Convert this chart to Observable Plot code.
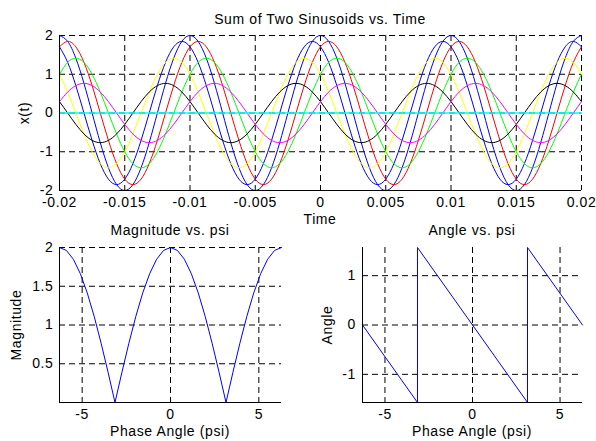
<!DOCTYPE html>
<html><head><meta charset="utf-8">
<script src="https://cdn.jsdelivr.net/npm/d3@7"></script>
<script src="https://cdn.jsdelivr.net/npm/@observablehq/plot@0.6"></script>
<style>
body{margin:0;background:#fff;}
#fig{position:relative;width:596px;height:441px;background:#fff;overflow:hidden;}
#fig svg{position:absolute;}
</style></head><body><div id="fig"></div>
<script>
// ---------- data: top panel (time samples and the eight summed sinusoids) ----------
const timeS = [
 -0.02,-0.019375,-0.01875,-0.018125,-0.0175,-0.016875,-0.01625,-0.015625,
 -0.015,-0.014375,-0.01375,-0.013125,-0.0125,-0.011875,-0.01125,-0.010625,
 -0.01,-0.009375,-0.00875,-0.008125,-0.0075,-0.006875,-0.00625,-0.005625,
 -0.005,-0.004375,-0.00375,-0.003125,-0.0025,-0.001875,-0.00125,-0.000625,
 0,0.000625,0.00125,0.001875,0.0025,0.003125,0.00375,0.004375,
 0.005,0.005625,0.00625,0.006875,0.0075,0.008125,0.00875,0.009375,
 0.01,0.010625,0.01125,0.011875,0.0125,0.013125,0.01375,0.014375,
 0.015,0.015625,0.01625,0.016875,0.0175,0.018125,0.01875,0.019375,0.02];
const xPsi0 = [
 2,1.848,1.414,0.765,0,-0.765,-1.414,-1.848,-2,-1.848,-1.414,-0.765,0,0.765,1.414,1.848,
 2,1.848,1.414,0.765,0,-0.765,-1.414,-1.848,-2,-1.848,-1.414,-0.765,0,0.765,1.414,1.848,
 2,1.848,1.414,0.765,0,-0.765,-1.414,-1.848,-2,-1.848,-1.414,-0.765,0,0.765,1.414,1.848,
 2,1.848,1.414,0.765,0,-0.765,-1.414,-1.848,-2,-1.848,-1.414,-0.765,0,0.765,1.414,1.848,
 2];
const xPsiP1 = [
 1.707,1.307,0.707,0,-0.707,-1.307,-1.707,-1.848,-1.707,-1.307,-0.707,0,0.707,1.307,1.707,1.848,
 1.707,1.307,0.707,0,-0.707,-1.307,-1.707,-1.848,-1.707,-1.307,-0.707,0,0.707,1.307,1.707,1.848,
 1.707,1.307,0.707,0,-0.707,-1.307,-1.707,-1.848,-1.707,-1.307,-0.707,0,0.707,1.307,1.707,1.848,
 1.707,1.307,0.707,0,-0.707,-1.307,-1.707,-1.848,-1.707,-1.307,-0.707,0,0.707,1.307,1.707,1.848,
 1.707];
const xPsiM1 = [
 1.707,1.848,1.707,1.307,0.707,0,-0.707,-1.307,-1.707,-1.848,-1.707,-1.307,-0.707,0,0.707,1.307,
 1.707,1.848,1.707,1.307,0.707,0,-0.707,-1.307,-1.707,-1.848,-1.707,-1.307,-0.707,0,0.707,1.307,
 1.707,1.848,1.707,1.307,0.707,0,-0.707,-1.307,-1.707,-1.848,-1.707,-1.307,-0.707,0,0.707,1.307,
 1.707,1.848,1.707,1.307,0.707,0,-0.707,-1.307,-1.707,-1.848,-1.707,-1.307,-0.707,0,0.707,1.307,
 1.707];
const xPsiP2 = [
 1,0.541,0,-0.541,-1,-1.307,-1.414,-1.307,-1,-0.541,0,0.541,1,1.307,1.414,1.307,
 1,0.541,0,-0.541,-1,-1.307,-1.414,-1.307,-1,-0.541,0,0.541,1,1.307,1.414,1.307,
 1,0.541,0,-0.541,-1,-1.307,-1.414,-1.307,-1,-0.541,0,0.541,1,1.307,1.414,1.307,
 1,0.541,0,-0.541,-1,-1.307,-1.414,-1.307,-1,-0.541,0,0.541,1,1.307,1.414,1.307,
 1];
const xPsiM2 = [
 1,1.307,1.414,1.307,1,0.541,0,-0.541,-1,-1.307,-1.414,-1.307,-1,-0.541,0,0.541,
 1,1.307,1.414,1.307,1,0.541,0,-0.541,-1,-1.307,-1.414,-1.307,-1,-0.541,0,0.541,
 1,1.307,1.414,1.307,1,0.541,0,-0.541,-1,-1.307,-1.414,-1.307,-1,-0.541,0,0.541,
 1,1.307,1.414,1.307,1,0.541,0,-0.541,-1,-1.307,-1.414,-1.307,-1,-0.541,0,0.541,
 1];
const xPsiP3 = [
 0.293,0,-0.293,-0.541,-0.707,-0.765,-0.707,-0.541,-0.293,0,0.293,0.541,0.707,0.765,0.707,0.541,
 0.293,0,-0.293,-0.541,-0.707,-0.765,-0.707,-0.541,-0.293,0,0.293,0.541,0.707,0.765,0.707,0.541,
 0.293,0,-0.293,-0.541,-0.707,-0.765,-0.707,-0.541,-0.293,0,0.293,0.541,0.707,0.765,0.707,0.541,
 0.293,0,-0.293,-0.541,-0.707,-0.765,-0.707,-0.541,-0.293,0,0.293,0.541,0.707,0.765,0.707,0.541,
 0.293];
const xPsiM3 = [
 0.293,0.541,0.707,0.765,0.707,0.541,0.293,0,-0.293,-0.541,-0.707,-0.765,-0.707,-0.541,-0.293,0,
 0.293,0.541,0.707,0.765,0.707,0.541,0.293,0,-0.293,-0.541,-0.707,-0.765,-0.707,-0.541,-0.293,0,
 0.293,0.541,0.707,0.765,0.707,0.541,0.293,0,-0.293,-0.541,-0.707,-0.765,-0.707,-0.541,-0.293,0,
 0.293,0.541,0.707,0.765,0.707,0.541,0.293,0,-0.293,-0.541,-0.707,-0.765,-0.707,-0.541,-0.293,0,
 0.293];
const xPsiPi = [
 0,0,0,0,0,0,0,0,0,0,0,0,0,0,0,0,
 0,0,0,0,0,0,0,0,0,0,0,0,0,0,0,0,
 0,0,0,0,0,0,0,0,0,0,0,0,0,0,0,0,
 0,0,0,0,0,0,0,0,0,0,0,0,0,0,0,0,
 0];
const seriesValues = [xPsi0, xPsiP1, xPsiM1, xPsiP2, xPsiM2, xPsiP3, xPsiM3, xPsiPi];
const timeTicks = [-0.02,-0.015,-0.01,-0.005,0,0.005,0.01,0.015,0.02];
const timeTickLabels = ["-0.02","-0.015","-0.01","-0.005","0","0.005","0.01","0.015","0.02"];
const xtTicks = [-2,-1,0,1,2];
const xtTickLabels = ["-2","-1","0","1","2"];

// ---------- data: bottom panels ----------
const psiS = [-6.283,-5.890,-5.498,-5.105,-4.712,-4.320,-3.927,-3.534,-3.142,-2.749,-2.356,-1.963,-1.571,-1.178,-0.785,-0.393,
 0,0.393,0.785,1.178,1.571,1.963,2.356,2.749,3.142,3.534,3.927,4.320,4.712,5.105,5.498,5.890,6.283];
const magS = [2,1.962,1.848,1.663,1.414,1.111,0.765,0.390,0,0.390,0.765,1.111,1.414,1.663,1.848,1.962,
 2,1.962,1.848,1.663,1.414,1.111,0.765,0.390,0,0.390,0.765,1.111,1.414,1.663,1.848,1.962,2];
const anglePsi = [-6.283,-3.142,-3.142,3.142,3.142,6.283];
const angleVal = [0,-1.571,1.571,-1.571,1.571,0];
const psiTicks = [-5,0,5];
const psiTickLabels = ["-5","0","5"];
const magTicks = [0.5,1,1.5,2];
const magTickLabels = ["0.5","1","1.5","2"];
const angTicks = [-1,0,1];
const angTickLabels = ["-1","0","1"];

// ---------- styles ----------
const seriesColors = ["#0000ff","#0000ff","#ff0000","#ffff00","#00ff00","#000000","#ff00ff","#00ffff"];
const seriesWidths = [1,1,1,1,1,1,1,1.4];
const FONT = "'Liberation Sans', Arial, sans-serif";
const baseStyle = {fontFamily: FONT, fontSize: "14px", background: "transparent", overflow: "visible", letterSpacing: "0.6px", color: "#000"};
const dash = {stroke: "#000", strokeOpacity: 1, strokeWidth: 1, strokeDasharray: "6,4"};

const fig = document.getElementById("fig");
function place(svg, left, top) { svg.style.left = left + "px"; svg.style.top = top + "px"; fig.appendChild(svg); }

// ---------- top panel ----------
const topLines = seriesValues.map((vals, i) => {
  const rows = timeS.map((t, k) => ({t, v: vals[k]}));
  return Plot.line(rows, {x: "t", y: "v", stroke: seriesColors[i], strokeWidth: seriesWidths[i], curve: "natural"});
});
const topPlot = Plot.plot({
  width: 596, height: 225, marginLeft: 59, marginRight: 15, marginTop: 35, marginBottom: 35,
  style: baseStyle,
  x: {domain: [timeS[0], timeS[timeS.length - 1]]},
  y: {domain: [xtTicks[0], xtTicks[xtTicks.length - 1]]},
  marks: [
    Plot.gridX({ticks: timeTicks, ...dash}),
    Plot.gridY({ticks: xtTicks, ...dash}),
    ...topLines,
    Plot.ruleX([timeS[0]], {stroke: "#000"}),
    Plot.ruleY([xtTicks[0]], {stroke: "#000"}),
    Plot.axisX({ticks: timeTicks, tickSize: 0, tickPadding: 7, label: null, tickFormat: (d, i) => timeTickLabels[i]}),
    Plot.axisY({ticks: xtTicks, tickSize: 0, tickPadding: 6, label: null, tickFormat: (d, i) => xtTickLabels[i]})
  ]
});
place(topPlot, 0, 0);

// ---------- bottom-left: magnitude ----------
const magRows = psiS.map((p, i) => ({p, m: magS[i]}));
const magPlot = Plot.plot({
  width: 300, height: 216, marginLeft: 59, marginRight: 19, marginTop: 22, marginBottom: 39,
  style: baseStyle,
  x: {domain: [psiS[0], psiS[psiS.length - 1]]},
  y: {domain: [0, magTicks[magTicks.length - 1]]},
  marks: [
    Plot.gridX({ticks: psiTicks, ...dash}),
    Plot.gridY({ticks: magTicks, ...dash}),
    Plot.line(magRows, {x: "p", y: "m", stroke: "#0000ff", strokeWidth: 1}),
    Plot.ruleX([psiS[0]], {stroke: "#000"}),
    Plot.ruleY([0], {stroke: "#000"}),
    Plot.axisX({ticks: psiTicks, tickSize: 0, tickPadding: 7, label: null, tickFormat: (d, i) => psiTickLabels[i]}),
    Plot.axisY({ticks: magTicks, tickSize: 0, tickPadding: 6, label: null, tickFormat: (d, i) => magTickLabels[i]})
  ]
});
place(magPlot, 0, 225);

// ---------- bottom-right: angle ----------
const angRows = anglePsi.map((p, i) => ({p, a: angleVal[i]}));
const angPlot = Plot.plot({
  width: 296, height: 216, marginLeft: 62, marginRight: 14, marginTop: 22, marginBottom: 39,
  style: baseStyle,
  x: {domain: [anglePsi[0], anglePsi[anglePsi.length - 1]]},
  y: {domain: [d3.min(angleVal), d3.max(angleVal)]},
  marks: [
    Plot.gridX({ticks: psiTicks, ...dash}),
    Plot.gridY({ticks: angTicks, ...dash}),
    Plot.line(angRows, {x: "p", y: "a", stroke: "#0000ff", strokeWidth: 1}),
    Plot.ruleX([anglePsi[0]], {stroke: "#000"}),
    Plot.ruleY([d3.min(angleVal)], {stroke: "#000"}),
    Plot.axisX({ticks: psiTicks, tickSize: 0, tickPadding: 7, label: null, tickFormat: (d, i) => psiTickLabels[i]}),
    Plot.axisY({ticks: angTicks, tickSize: 0, tickPadding: 6.5, label: null, tickFormat: (d, i) => angTickLabels[i]})
  ]
});
place(angPlot, 300, 225);

// ---------- titles and axis labels ----------
const textItems = [
  {s: "Sum of Two Sinusoids vs. Time", x: 320, y: 24},
  {s: "Time", x: 320, y: 224},
  {s: "x(t)", x: 29, y: 113, r: true},
  {s: "Magnitude vs. psi", x: 170, y: 235},
  {s: "Phase Angle (psi)", x: 170, y: 436},
  {s: "Magnitude", x: 20.5, y: 325, r: true},
  {s: "Angle vs. psi", x: 472, y: 235},
  {s: "Phase Angle (psi)", x: 472, y: 436},
  {s: "Angle", x: 332, y: 325, r: true}
];
const ov = d3.create("svg").attr("width", 596).attr("height", 441)
  .style("left", "0px").style("top", "0px").style("pointer-events", "none");
ov.selectAll("text").data(textItems).join("text")
  .attr("transform", d => `translate(${d.x},${d.y})` + (d.r ? " rotate(-90)" : ""))
  .attr("text-anchor", "middle")
  .style("font-family", FONT).style("font-size", "14px").style("letter-spacing", "0.6px")
  .attr("fill", "#000")
  .text(d => d.s);
fig.appendChild(ov.node());
</script>
</body></html>
